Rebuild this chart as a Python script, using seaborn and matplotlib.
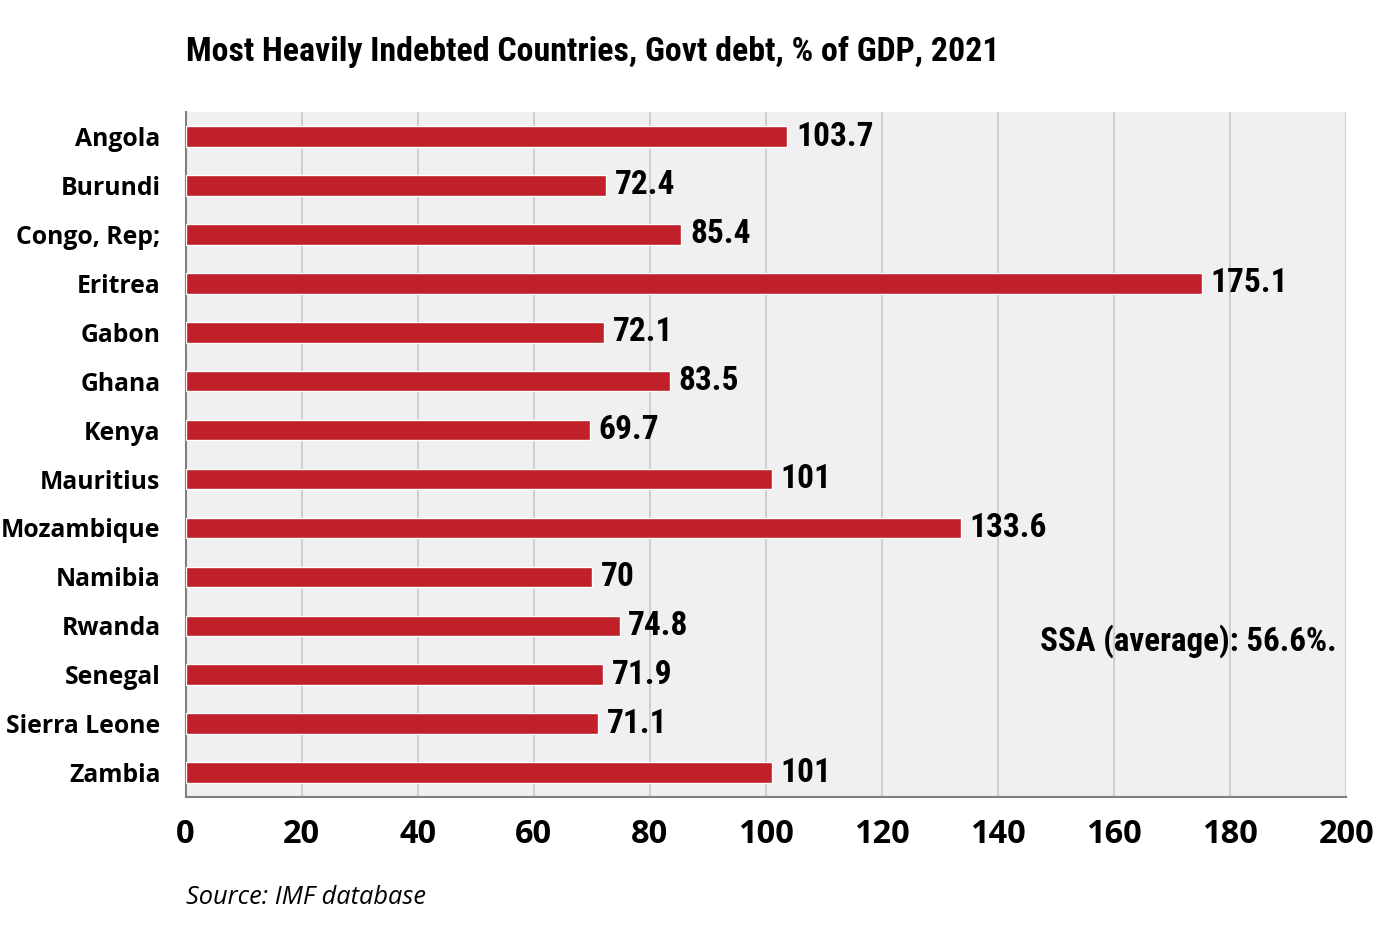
import matplotlib
matplotlib.use("Agg")
import matplotlib.pyplot as plt
import seaborn as sns
import pandas as pd

countries = ['Angola', 'Burundi', 'Congo, Rep;', 'Eritrea', 'Gabon', 'Ghana', 'Kenya',
             'Mauritius', 'Mozambique', 'Namibia', 'Rwanda', 'Senegal', 'Sierra Leone', 'Zambia']
debt = [103.7, 72.4, 85.4, 175.1, 72.1, 83.5, 69.7, 101, 133.6, 70, 74.8, 71.9, 71.1, 101]
debt_labels = ['103.7', '72.4', '85.4', '175.1', '72.1', '83.5', '69.7',
               '101', '133.6', '70', '74.8', '71.9', '71.1', '101']
x_ticks = [0, 20, 40, 60, 80, 100, 120, 140, 160, 180, 200]

sns.set_style("white")
COND = ['Liberation Sans Narrow', 'DejaVu Sans Condensed', 'Roboto Condensed',
        'Liberation Sans', 'DejaVu Sans']
WIDE = ['Open Sans', 'DejaVu Sans']
plt.rcParams['font.family'] = COND
plt.rcParams['text.color'] = 'black'
plt.rcParams['xtick.color'] = 'black'
plt.rcParams['ytick.color'] = 'black'

df = pd.DataFrame({'country': countries, 'debt': debt})

fig = plt.figure(figsize=(13.85, 9.5), dpi=100)
ax = fig.add_axes([0.134, 0.161, 0.838, 0.721])
ax.set_facecolor('#f0f0f2')

sns.barplot(data=df, x='debt', y='country', color='#c0202a', saturation=1,
            width=0.42, ax=ax, zorder=3)

ax.set_xlim(0, 200)
ax.set_xticks(x_ticks)
ax.set_xticklabels([str(t) for t in x_ticks], fontsize=23.5, fontweight='bold', family=WIDE)
ax.tick_params(axis='x', length=0, pad=15)
ax.tick_params(axis='y', length=0, pad=18)
for lbl in ax.get_yticklabels():
    lbl.set_fontweight('bold')
    lbl.set_family(WIDE)
    lbl.set_fontsize(17.8)
ax.set_xlabel('')
ax.set_ylabel('')
ax.grid(axis='x', color='#c8c8c8', linewidth=1.2, zorder=0)
ax.set_axisbelow(True)

for s in ['top', 'right']:
    ax.spines[s].set_visible(False)
for s in ['left', 'bottom']:
    ax.spines[s].set_color('#808080')
    ax.spines[s].set_linewidth(1.5)

for i, (v, t) in enumerate(zip(debt, debt_labels)):
    ax.text(v + 1.5, i, t, va='center', ha='left', fontsize=24, fontweight='bold', zorder=4)

ax.text(0.992, 0.228, 'SSA (average): 56.6%.', transform=ax.transAxes,
        ha='right', va='center', fontsize=23.8, fontweight='bold')

fig.text(0.134, 0.945, 'Most Heavily Indebted Countries, Govt debt, % of GDP, 2021',
         ha='left', va='center', fontsize=24.4, fontweight='bold')
fig.text(0.134, 0.055, 'Source: IMF database', ha='left', va='center',
         fontsize=18.3, style='italic', family=WIDE)

fig.savefig('out.png', dpi=100)
